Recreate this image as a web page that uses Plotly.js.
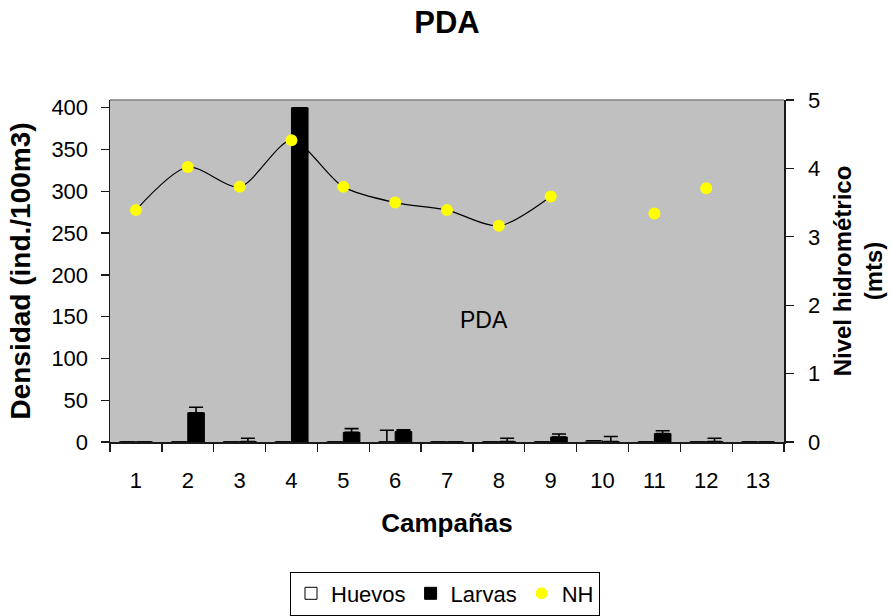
<!DOCTYPE html>
<html>
<head>
<meta charset="utf-8">
<script src="https://cdn.plot.ly/plotly-3.0.1.min.js"></script>
<style>
  html, body { margin: 0; padding: 0; background: #ffffff; }
  #chart { width: 891px; height: 616px; }
</style>
</head>
<body>
<div id="chart"></div>
<script>
// Campaigns on the category axis
const campaigns = ['1', '2', '3', '4', '5', '6', '7', '8', '9', '10', '11', '12', '13'];

// Density of eggs and larvae (ind./100m3) with upper error values
const huevos    = [0, 0, 0, 0, 0, 0, 0, 0, 0, 1.5, 0, 0, 0];
const huevosErr = [0, 0, 0, 0, 0, 14, 0, 0, 0, 0, 0, 0, 0];
const larvas    = [0, 35, 0.5, 400, 11.5, 12.5, 0, 0.5, 6, 0.5, 10, 0.5, 0];
const larvasErr = [0, 6.5, 4, 0, 4.5, 2, 0, 4, 3.5, 6, 3.5, 4, 0];

// Hydrometric level (m); campaigns without a reading are null
const nh = [3.39, 4.02, 3.73, 4.41, 3.73, 3.50, 3.39, 3.16, 3.59, null, 3.34, 3.71, null];

// Tick values for both vertical scales
const densTicks = [0, 50, 100, 150, 200, 250, 300, 350, 400];
const nhTicks = [0, 1, 2, 3, 4, 5];

// The smoothed trend runs over the continuous run of readings (campaigns 1-9)
const firstGap = nh.indexOf(null);
const trendX = campaigns.slice(0, firstGap);
const trendY = nh.slice(0, firstGap);

// Category boundaries for the cross ticks drawn inside the plot
const boundaries = campaigns.map((c, i) => i - 0.5).concat([campaigns.length - 0.5]);

const FONT = 'Liberation Sans, Arial, sans-serif';
const AXIS_COLOR = '#1a1a1a';
const DENS_MAX = 409.3;

const traces = [
  {
    type: 'bar', name: 'Huevos', x: campaigns, y: huevos,
    marker: { color: '#ffffff', line: { color: '#000000', width: 1 } },
    error_y: { type: 'data', symmetric: false, array: huevosErr,
               arrayminus: huevos.map(() => 0), color: '#000000', thickness: 1.6, width: 7 },
    xaxis: 'x', yaxis: 'y'
  },
  {
    type: 'bar', name: 'Larvas', x: campaigns, y: larvas,
    marker: { color: '#000000', line: { color: '#000000', width: 1 } },
    error_y: { type: 'data', symmetric: false, array: larvasErr,
               arrayminus: larvas.map(() => 0), color: '#000000', thickness: 1.6, width: 7 },
    xaxis: 'x', yaxis: 'y'
  },
  {
    type: 'scatter', mode: 'lines', name: 'tendencia', showlegend: false,
    x: trendX, y: trendY, hoverinfo: 'skip',
    line: { color: '#000000', width: 1.2, shape: 'spline', smoothing: 0.8 },
    xaxis: 'x', yaxis: 'y2'
  },
  {
    type: 'scatter', mode: 'markers', name: 'NH', x: campaigns, y: nh,
    marker: { color: '#ffff00', size: 12, line: { width: 0 } },
    xaxis: 'x', yaxis: 'y2'
  }
];

const tickFont = { family: FONT, size: 22, color: '#000000' };

const layout = {
  width: 891, height: 616,
  margin: { l: 110, r: 107, t: 100, b: 174 },
  paper_bgcolor: '#ffffff',
  plot_bgcolor: '#c0c0c0',
  showlegend: true,
  barmode: 'group',
  bargap: 0.36,
  bargroupgap: 0,
  title: {
    text: 'PDA',
    font: { family: FONT, size: 31, color: '#000000', weight: 'bold' },
    x: 0.5, xref: 'paper', xanchor: 'center',
    y: 1 - 22 / 616, yref: 'container', yanchor: 'middle'
  },
  xaxis: {
    type: 'category', range: [-0.5, campaigns.length - 0.5],
    tickson: 'boundaries', ticks: 'outside', ticklen: 8, tickwidth: 1.3, tickcolor: AXIS_COLOR,
    showline: true, linecolor: AXIS_COLOR, linewidth: 1.5,
    showgrid: false, zeroline: false, automargin: false,
    tickfont: tickFont, ticklabelstandoff: 18,
    title: { text: 'Campañas', standoff: 22,
             font: { family: FONT, size: 26, color: '#000000', weight: 'bold' } }
  },
  xaxis2: {
    overlaying: 'x', anchor: 'y', type: 'linear', range: [-0.5, campaigns.length - 0.5],
    tickmode: 'array', tickvals: boundaries, ticks: 'inside', ticklen: 8, tickwidth: 1.3,
    tickcolor: AXIS_COLOR, showticklabels: false, showline: false, showgrid: false,
    zeroline: false, side: 'bottom', automargin: false
  },
  yaxis: {
    range: [0, DENS_MAX], tickmode: 'array', tickvals: densTicks,
    ticks: 'outside', ticklen: 8, tickwidth: 1.3, tickcolor: AXIS_COLOR,
    showline: true, linecolor: AXIS_COLOR, linewidth: 1.5,
    showgrid: false, zeroline: false, automargin: false,
    tickfont: tickFont, ticklabelstandoff: 8,
    title: { text: 'Densidad (ind./100m3)', standoff: 12,
             font: { family: FONT, size: 28, color: '#000000', weight: 'bold' } }
  },
  yaxis3: {
    overlaying: 'y', anchor: 'x', side: 'left', range: [0, DENS_MAX],
    tickmode: 'array', tickvals: densTicks, ticks: 'inside', ticklen: 8, tickwidth: 1.3,
    tickcolor: AXIS_COLOR, showticklabels: false, showline: false, showgrid: false,
    zeroline: false, automargin: false
  },
  yaxis2: {
    overlaying: 'y', side: 'right', anchor: 'x', range: [0, 5],
    tickmode: 'array', tickvals: nhTicks,
    ticks: 'outside', ticklen: 8, tickwidth: 1.3, tickcolor: AXIS_COLOR,
    showline: true, linecolor: AXIS_COLOR, linewidth: 1.5,
    showgrid: false, zeroline: false, automargin: false,
    tickfont: tickFont, ticklabelstandoff: 10,
    title: { text: 'Nivel hidrométrico<br>(mts)', standoff: 15,
             font: { family: FONT, size: 24, color: '#000000', weight: 'bold' } }
  },
  yaxis4: {
    overlaying: 'y', anchor: 'x', side: 'right', range: [0, 5],
    tickmode: 'array', tickvals: nhTicks, ticks: 'inside', ticklen: 8, tickwidth: 1.3,
    tickcolor: AXIS_COLOR, showticklabels: false, showline: false, showgrid: false,
    zeroline: false, automargin: false
  },
  legend: {
    orientation: 'h',
    x: 445 / 891, xref: 'container', xanchor: 'center',
    y: 1 - 571.5 / 616, yref: 'container', yanchor: 'top',
    bgcolor: '#ffffff', bordercolor: '#000000', borderwidth: 1,
    font: { family: FONT, size: 22, color: '#000000' },
    traceorder: 'normal', itemwidth: 30
  },
  annotations: [
    {
      text: 'PDA', xref: 'paper', yref: 'paper', x: 0.555, y: 0.358,
      xanchor: 'center', yanchor: 'middle', showarrow: false,
      font: { family: FONT, size: 23, color: '#000000' }
    }
  ],
  shapes: [
    {
      type: 'line', xref: 'paper', yref: 'paper', x0: 0, x1: 1, y0: 1, y1: 1,
      line: { color: '#808080', width: 1.5 }, layer: 'above'
    }
  ]
};

Plotly.newPlot('chart', traces, layout, { displayModeBar: false, staticPlot: true });
</script>
</body>
</html>
